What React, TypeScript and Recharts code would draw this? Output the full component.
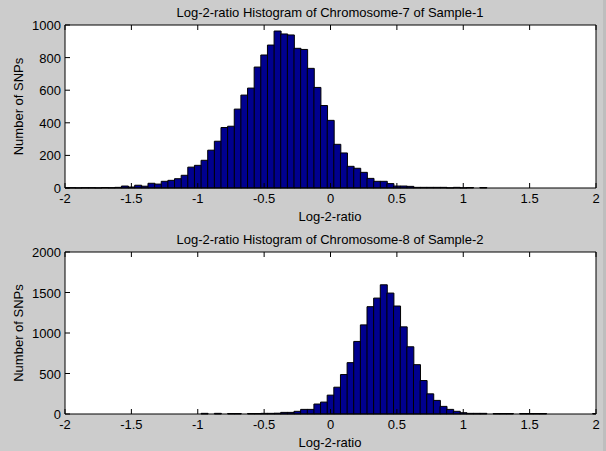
import { BarChart, Bar, XAxis, YAxis, CartesianGrid } from "recharts";

// bin centres of the histogram (hist with 0.05 steps)
const binCenters = [
  -2, -1.95, -1.9, -1.85, -1.8, -1.75, -1.7, -1.65, -1.6, -1.55,
  -1.5, -1.45, -1.4, -1.35, -1.3, -1.25, -1.2, -1.15, -1.1, -1.05,
  -1, -0.95, -0.9, -0.85, -0.8, -0.75, -0.7, -0.65, -0.6, -0.55,
  -0.5, -0.45, -0.4, -0.35, -0.3, -0.25, -0.2, -0.15, -0.1, -0.05,
  0, 0.05, 0.1, 0.15, 0.2, 0.25, 0.3, 0.35, 0.4, 0.45,
  0.5, 0.55, 0.6, 0.65, 0.7, 0.75, 0.8, 0.85, 0.9, 0.95,
  1, 1.05, 1.1, 1.15, 1.2, 1.25, 1.3, 1.35, 1.4, 1.45,
  1.5, 1.55, 1.6, 1.65, 1.7, 1.75, 1.8, 1.85, 1.9, 1.95,
  2,
];

// Chromosome-7 of Sample-1
const chr7Counts = [
  1, 2, 1, 2, 2, 1, 3, 2, 4, 12,
  6, 17, 11, 29, 24, 41, 47, 57, 78, 128,
  139, 170, 232, 287, 371, 379, 484, 570, 613, 742,
  816, 877, 963, 945, 939, 857, 850, 734, 617, 506,
  415, 268, 215, 133, 121, 96, 59, 41, 41, 27,
  12, 12, 10, 4, 4, 4, 4, 4, 1, 4,
  1, 3, 0, 3, 0, 0, 0, 0, 0, 0,
  0, 0, 0, 0, 0, 0, 0, 0, 0, 0,
  0,
];

// Chromosome-8 of Sample-2
const chr8Counts = [
  0, 0, 0, 0, 0, 0, 0, 0, 0, 0,
  0, 0, 0, 0, 0, 0, 0, 0, 0, 0,
  0, 8, 0, 8, 0, 6, 6, 0, 6, 6,
  8, 8, 10, 20, 20, 33, 57, 57, 123, 147,
  233, 331, 487, 634, 896, 1100, 1325, 1431, 1595, 1493,
  1333, 1076, 830, 609, 413, 249, 168, 94, 57, 33,
  16, 8, 8, 8, 0, 6, 6, 6, 0, 6,
  6, 6, 6, 0, 0, 0, 0, 0, 0, 0,
  6,
];

const xTicks = [-2, -1.5, -1, -0.5, 0, 0.5, 1, 1.5, 2];
const chr7YTicks = [0, 200, 400, 600, 800, 1000];
const chr8YTicks = [0, 500, 1000, 1500, 2000];

const FONT = "'Liberation Sans', Arial, Helvetica, sans-serif";
const TICK_LEN = 5;

function BottomTick({ x, y, payload }: any) {
  return (
    <g>
      <line x1={x} y1={y} x2={x} y2={y - TICK_LEN} stroke="#000" />
      <text x={x} y={y + 15} textAnchor="middle" fontSize={13} fontFamily={FONT} fill="#000">
        {payload.value}
      </text>
    </g>
  );
}

function LeftTick({ x, y, payload }: any) {
  return (
    <g>
      <line x1={x} y1={y} x2={x + TICK_LEN} y2={y} stroke="#000" />
      <text x={x - 4} y={y + 5} textAnchor="end" fontSize={13} fontFamily={FONT} fill="#000">
        {payload.value}
      </text>
    </g>
  );
}

function TopTick({ x, y }: any) {
  return <line x1={x} y1={y} x2={x} y2={y + TICK_LEN} stroke="#000" />;
}

function RightTick({ x, y }: any) {
  return <line x1={x} y1={y} x2={x - TICK_LEN} y2={y} stroke="#000" />;
}

type HistProps = {
  counts: number[];
  yTicks: number[];
  top: number;
  height: number;
  marginTop: number;
  marginBottom: number;
  title: string;
};

function Histogram({ counts, yTicks, top, height, marginTop, marginBottom, title }: HistProps) {
  const data = binCenters.map((x, i) => ({ x, count: counts[i] }));
  const plotBottom = height - marginBottom;
  const yMax = yTicks[yTicks.length - 1];
  return (
    <div style={{ position: "absolute", left: 0, top, width: 606, height }}>
      <BarChart
        width={606}
        height={height}
        data={data}
        margin={{ top: marginTop - 1, right: 9, bottom: marginBottom - 1, left: 64 }}
        barCategoryGap={0}
        barGap={0}
      >
        <CartesianGrid fill="#ffffff" stroke="none" />
        <XAxis
          dataKey="x"
          type="number"
          domain={[-2, 2]}
          ticks={xTicks}
          allowDataOverflow
          height={1}
          tickSize={0}
          tickMargin={0}
          axisLine={{ stroke: "#000" }}
          tick={BottomTick}
          interval={0}
        />
        <XAxis
          xAxisId="top"
          orientation="top"
          dataKey="x"
          type="number"
          domain={[-2, 2]}
          ticks={xTicks}
          height={1}
          tickSize={0}
          tickMargin={0}
          axisLine={{ stroke: "#000" }}
          tick={TopTick}
          interval={0}
        />
        <YAxis
          type="number"
          domain={[0, yMax]}
          ticks={yTicks}
          width={1}
          tickSize={0}
          tickMargin={0}
          axisLine={{ stroke: "#000" }}
          tick={LeftTick}
          interval={0}
        />
        <YAxis
          yAxisId="right"
          orientation="right"
          type="number"
          domain={[0, yMax]}
          ticks={yTicks}
          width={1}
          tickSize={0}
          tickMargin={0}
          axisLine={{ stroke: "#000" }}
          tick={RightTick}
          interval={0}
        />
        <Bar
          dataKey="count"
          fill="#00008F"
          stroke="#000"
          strokeWidth={1}
          isAnimationActive={false}
        />
      </BarChart>
      <svg
        width={606}
        height={height}
        style={{ position: "absolute", left: 0, top: 0, pointerEvents: "none" }}
      >
        <text x={330} y={marginTop - 8} textAnchor="middle" fontSize={13} fontFamily={FONT} fill="#000">
          {title}
        </text>
        <text x={330} y={plotBottom + 33} textAnchor="middle" fontSize={13} fontFamily={FONT} fill="#000">
          Log-2-ratio
        </text>
        <text
          x={0}
          y={0}
          transform={`translate(23, ${(marginTop + plotBottom) / 2}) rotate(-90)`}
          textAnchor="middle"
          fontSize={13}
          fontFamily={FONT}
          fill="#000"
        >
          Number of SNPs
        </text>
      </svg>
    </div>
  );
}

export default function App() {
  return (
    <div
      style={{
        position: "absolute",
        left: 0,
        top: 0,
        width: 606,
        height: 451,
        background: "#cccccc",
        overflow: "hidden",
      }}
    >
      <Histogram
        counts={chr7Counts}
        yTicks={chr7YTicks}
        top={0}
        height={230}
        marginTop={25}
        marginBottom={42}
        title="Log-2-ratio Histogram of Chromosome-7 of Sample-1"
      />
      <Histogram
        counts={chr8Counts}
        yTicks={chr8YTicks}
        top={230}
        height={221}
        marginTop={22}
        marginBottom={37}
        title="Log-2-ratio Histogram of Chromosome-8 of Sample-2"
      />
      {/* window edge strip on the right */}
      <div
        style={{
          position: "absolute",
          right: 0,
          top: 0,
          width: 3,
          height: 451,
          background: "#bebebe",
        }}
      />
    </div>
  );
}
